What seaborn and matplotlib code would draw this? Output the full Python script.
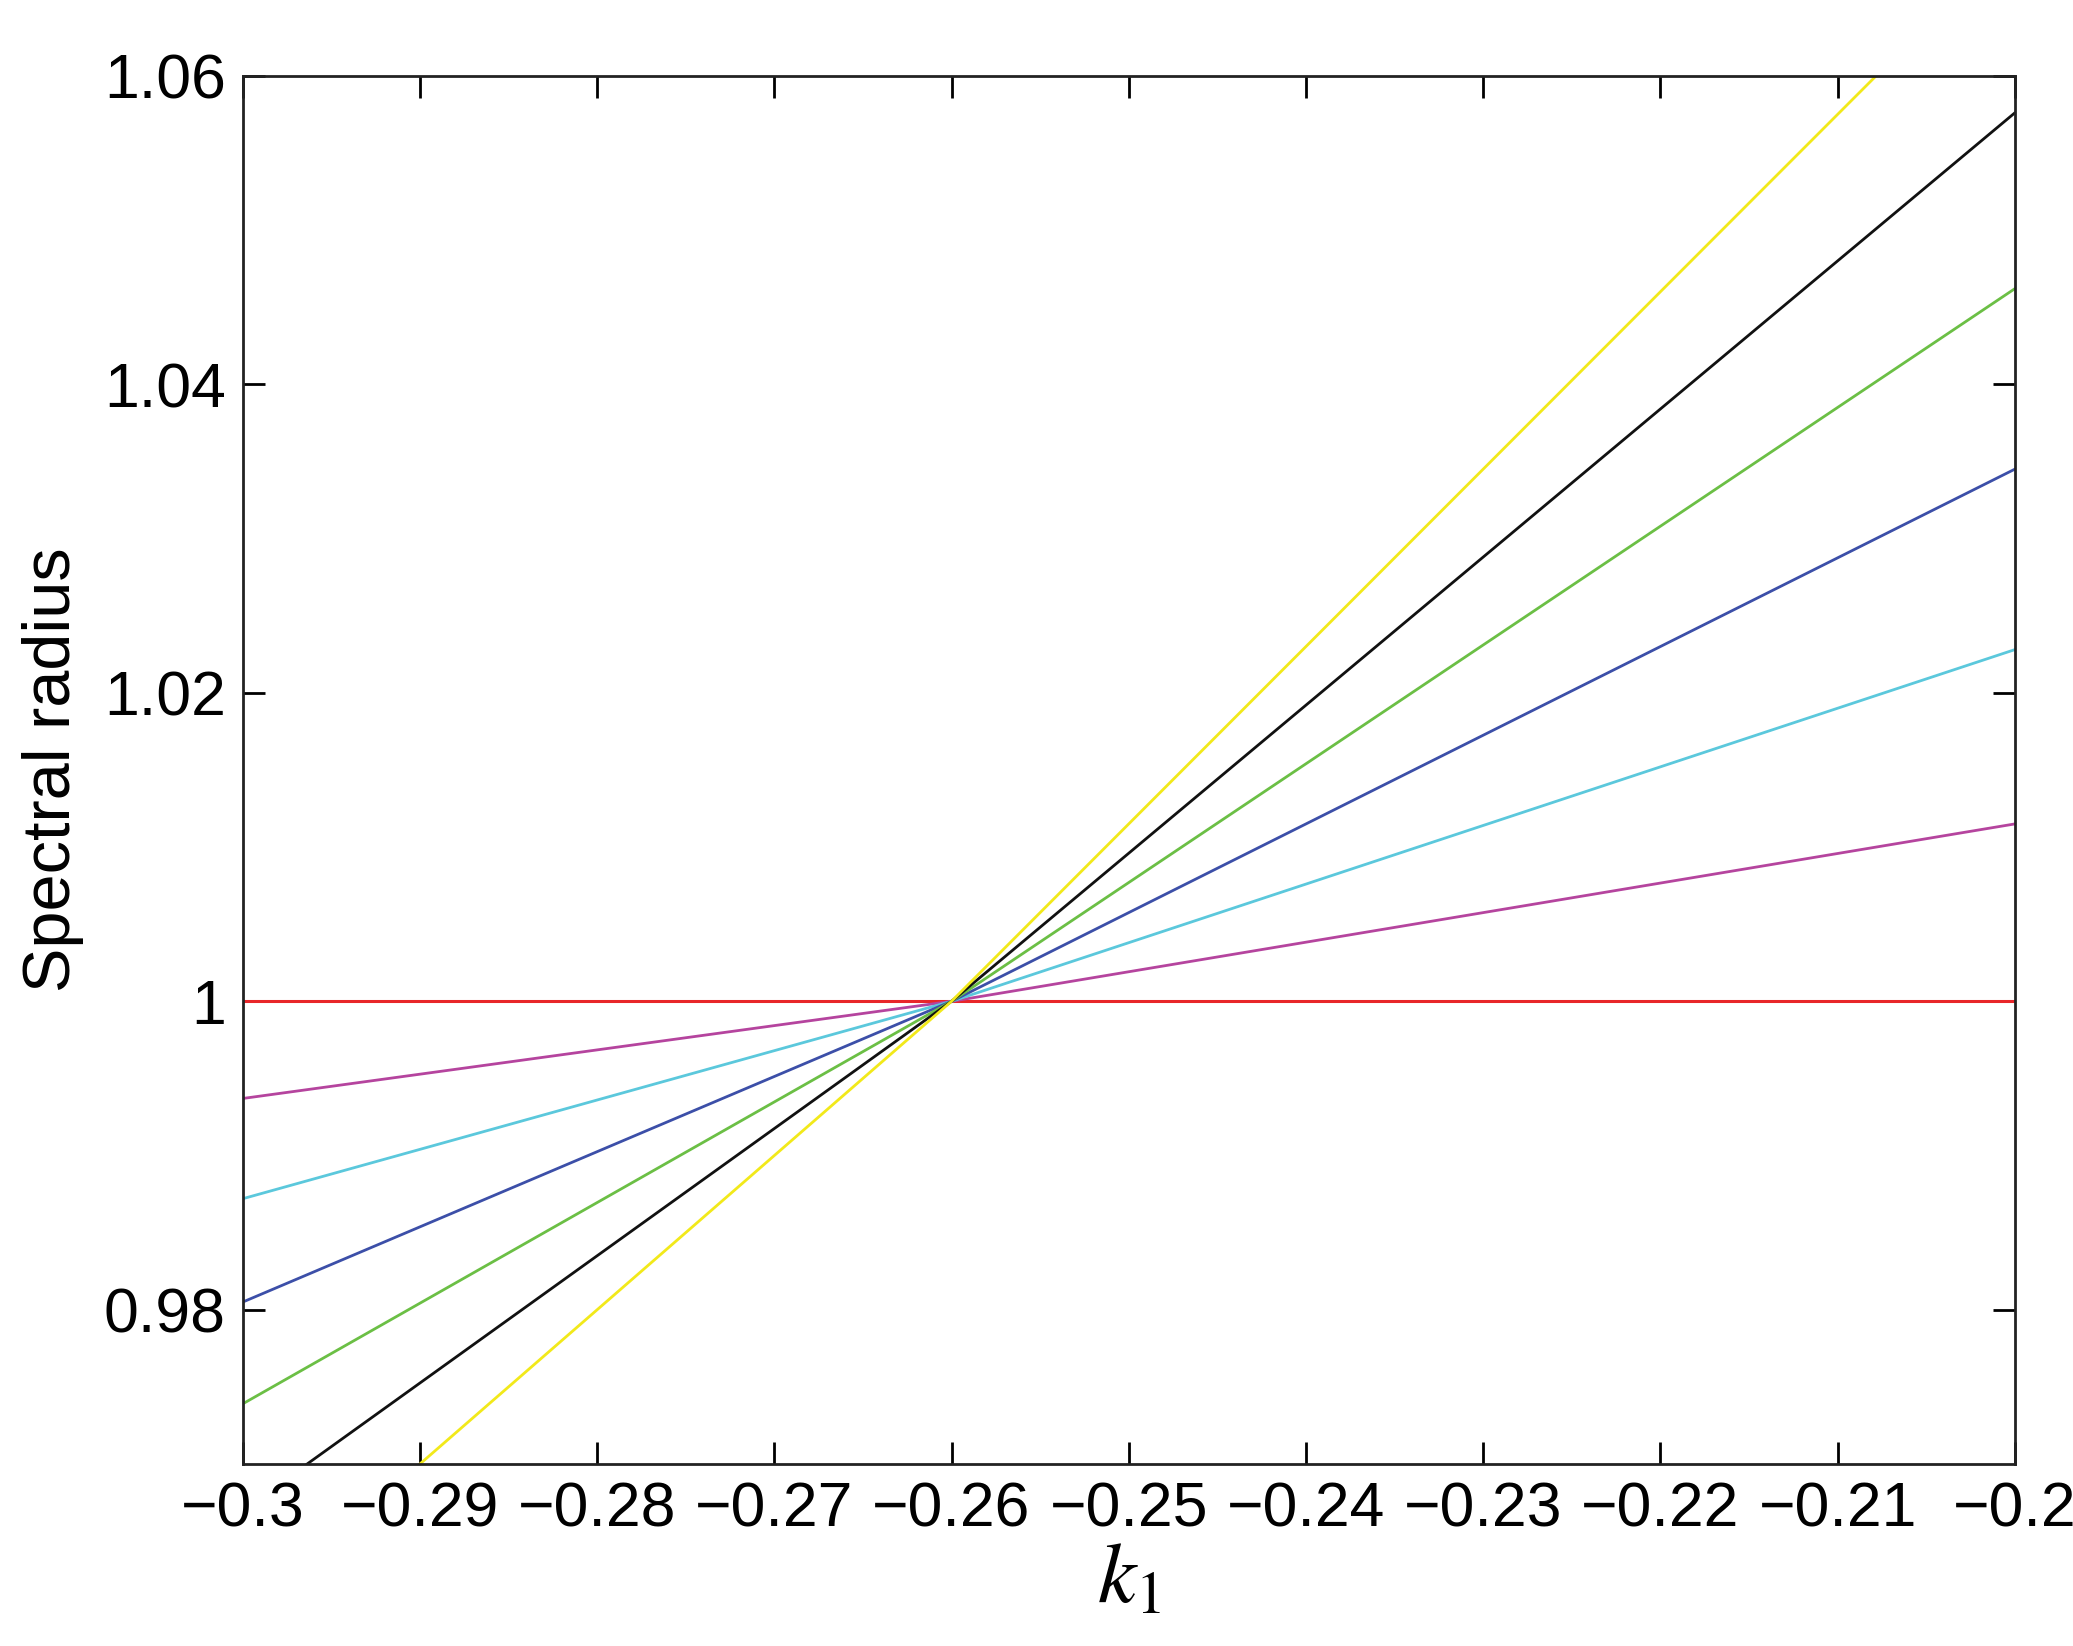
import matplotlib as mpl
mpl.use('Agg')
import matplotlib.pyplot as plt
import seaborn as sbn
import pandas as pd

k1 = [-0.30, -0.26, -0.20]
magenta = [0.9937, 1.0, 1.0115]
cyan = [0.9872, 1.0, 1.0228]
blue = [0.9805, 1.0, 1.0345]
green = [0.9739, 1.0, 1.0462]
black = [0.9670, 1.0, 1.0576]
yellow = [0.9600, 1.0, 1.0690]

series = [('magenta', magenta, '#b5449e'), ('cyan', cyan, '#5bc8dc'),
          ('blue', blue, '#3c4fa8'), ('green', green, '#6bbf45'),
          ('black', black, '#111111'), ('yellow', yellow, '#f2e91a')]

sbn.set_style('ticks')
plt.rcParams['font.family'] = ['Liberation Sans', 'DejaVu Sans']
plt.rcParams['mathtext.fontset'] = 'stix'
plt.rcParams['text.color'] = 'black'
plt.rcParams['axes.labelcolor'] = 'black'
plt.rcParams['xtick.color'] = 'black'
plt.rcParams['ytick.color'] = 'black'

fig = plt.figure(figsize=(20.73, 16.46), dpi=100)
ax = fig.add_axes([0.117, 0.1105, 0.855, 0.8435])

ax.axhline(1.0, color='#e8262a', lw=2.2, zorder=1)
for name, vals, col in series:
    df = pd.DataFrame({'k1': k1, 'rho': vals})
    sbn.lineplot(data=df, x='k1', y='rho', color=col, lw=2.0, ax=ax)

ax.set_xlim(-0.3, -0.2)
ax.set_ylim(0.97, 1.06)
ax.set_xticks([-0.3 + 0.01 * i for i in range(11)])
ax.set_xticklabels(['\u22120.3', '\u22120.29', '\u22120.28', '\u22120.27', '\u22120.26', '\u22120.25',
                    '\u22120.24', '\u22120.23', '\u22120.22', '\u22120.21', '\u22120.2'])
ax.set_yticks([0.98, 1.0, 1.02, 1.04, 1.06])
ax.set_yticklabels(['0.98', '1', '1.02', '1.04', '1.06'])
ax.tick_params(direction='in', length=16, width=2, labelsize=45, top=True, right=True, pad=12)
for s in ax.spines.values():
    s.set_linewidth(2)
    s.set_color('#222222')
ax.set_xlabel('$k_1$', fontsize=62, labelpad=0)
ax.set_ylabel('Spectral radius', fontsize=48, labelpad=14)

fig.savefig('out.png')
